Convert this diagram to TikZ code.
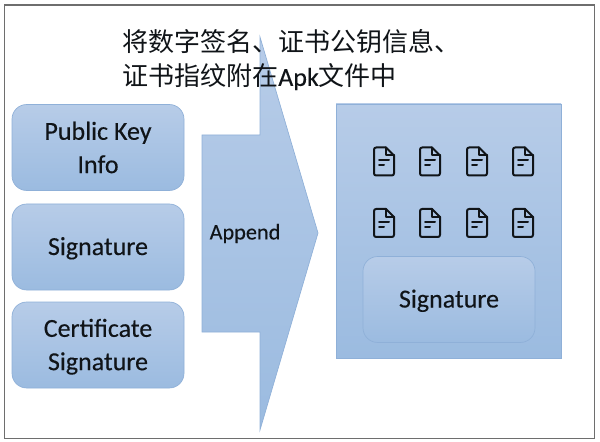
\documentclass[tikz,border=0pt]{standalone}
\usepackage{fontspec}
\setmainfont[FakeBold=0.25]{Carlito}
\newfontfamily\cjk{Noto Sans CJK SC}
\definecolor{gtop}{HTML}{B7CCE8}
\definecolor{gbot}{HTML}{9BBBE0}
\definecolor{edgeblue}{HTML}{8FB0D8}
\definecolor{frameg}{HTML}{6E6E6E}
\definecolor{inktxt}{HTML}{101418}
\tikzset{
  bluefill/.style={top color=gtop,bottom color=gbot,draw=edgeblue,line width=0.5pt},
  roundbox/.style={bluefill,rounded corners=11pt,minimum width=129pt,minimum height=64.5pt,inner sep=0pt,align=center,text=inktxt,font=\fontsize{19.5}{25}\selectfont},
  lbl/.style={text=inktxt,inner sep=0pt},
  doc/.style={draw=inktxt,line width=1.5pt,line join=round,line cap=round},
  pics/docicon/.style={code={
    \draw[doc,rounded corners=1.6pt] (2,-14) -- (-10,-14) -- (-10,14) -- (10,14) -- (10,-6);
    \draw[doc] (10,-6) -- (2,-14);
    \draw[doc] (2,-14) -- (2,-6) -- (10,-6);
    \draw[doc] (-5,-1) -- (5,-1);
    \draw[doc] (-5,4) -- (0,4);
  }}
}
\begin{document}
\begin{tikzpicture}[x=0.75pt,y=-0.75pt]
\useasboundingbox (0,0) rectangle (600,442);
\fill[white] (0,0) rectangle (600,442);
\node[draw=frameg,line width=0.9pt,fill=white,minimum width=442.5pt,minimum height=324.75pt,inner sep=0pt,anchor=north west] (frame) at (3.5,4.5) {};
% block arrow
\draw[bluefill] (260,37) -- (318,233) -- (260,430) -- (260,332) -- (202,332) -- (202,135) -- (260,135) -- cycle;
\node[lbl,font=\fontsize{16.7}{18}\selectfont,anchor=center] (append) at (245,233.5) {Append};
% title
\node[lbl,anchor=west,font=\fontsize{19.5}{24}\selectfont] (t1) at (122,41.5) {\cjk 将数字签名、证书公钥信息、};
\node[lbl,anchor=west,font=\fontsize{19.5}{24}\selectfont] (t2) at (122,77) {{\cjk 证书指纹附在}Apk{\cjk 文件中}};
% left boxes
\node[roundbox] (pk) at (98,147.5) {Public Key\\Info};
\node[roundbox] (sig) at (98,247) {\raisebox{-6pt}[0pt][0pt]{Signature}};
\node[roundbox] (cert) at (98,345) {\raisebox{-6.5pt}[0pt][0pt]{\parbox{129pt}{\centering Certificate\\Signature}}};
% right panel
\node[bluefill,minimum width=168.75pt,minimum height=190.5pt,inner sep=0pt] (panel) at (448.5,231) {};
\foreach \px in {384,430,477,523}
  \foreach \py in {161.5,223}
    \pic at (\px,\py) {docicon};
\node[roundbox] (sig2) at (449,299.5) {\raisebox{-6pt}[0pt][0pt]{Signature}};
\end{tikzpicture}
\end{document}
